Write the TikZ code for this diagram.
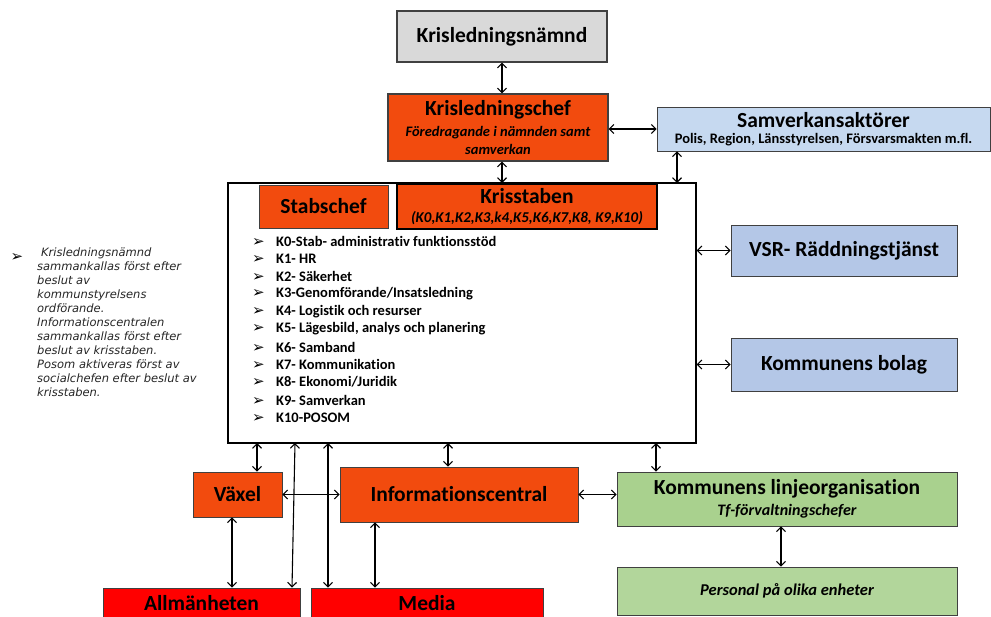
\documentclass[tikz,border=0pt]{standalone}
\usepackage{fontspec}
\setmainfont{Carlito}[Ligatures=NoCommon]
\newfontfamily\notefont{DejaVu Sans}[ItalicFont={DejaVu Sans Oblique}]
\usetikzlibrary{arrows.meta}

\definecolor{nmndgray}{RGB}{217,217,217}
\definecolor{krisorange}{RGB}{242,75,14}
\definecolor{krisred}{RGB}{255,0,0}
\definecolor{samvblue}{RGB}{198,217,240}
\definecolor{vsrblue}{RGB}{180,199,231}
\definecolor{linjegreen}{RGB}{169,209,142}
\definecolor{persgreen}{RGB}{178,214,155}

\newcommand{\boxtitle}{\fontsize{21.5}{24}\selectfont\bfseries}
\newcommand{\boxsub}[1]{\fontsize{#1}{18}\selectfont\bfseries\itshape}
\newcommand{\bul}{\makebox[24pt][l]{\notefont\fontsize{15}{15}\selectfont ➢}}

\begin{document}
\begin{tikzpicture}[x=1pt,y=-1pt,
  box/.style={draw=black!75,line width=0.8pt,inner sep=0pt,align=center},
  item/.style={anchor=west,inner sep=0pt,font=\fontsize{14.5}{17}\selectfont\bfseries},
  conn/.style={{Straight Barb[length=4.5pt,width=9pt]}-{Straight Barb[length=4.5pt,width=9pt]},line width=1.1pt}]
\path[use as bounding box] (0,0) rectangle (991,617);
\clip (0,0) rectangle (991,617);
\fill[white] (0,0) rectangle (991,617);
\node[box,fill=nmndgray,line width=1.2pt,minimum width=210pt,minimum height=51pt] (nmnd) at (502,36.5) {\boxtitle Krisledningsnämnd};
\node[box,fill=krisorange,line width=1.2pt,minimum width=220pt,minimum height=67pt] (chef) at (498,127.5)
  {{\boxtitle Krisledningschef}\\[6pt] {\boxsub{14.5}Föredragande i nämnden samt}\\[4pt] {\boxsub{14.5}samverkan}};
\node[box,fill=samvblue,minimum width=333pt,minimum height=44pt] (samv) at (823.5,129)
  {{\boxtitle Samverkansaktörer}\\[4pt] {\fontsize{14.5}{16}\selectfont\bfseries Polis, Region, Länsstyrelsen, Försvarsmakten m.fl.}};
\node[draw,line width=1.3pt,inner sep=0pt,minimum width=468pt,minimum height=260pt] (frame) at (462,313) {};
\node[box,fill=krisorange,minimum width=129pt,minimum height=43pt] (stabschef) at (323.5,206.5) {\boxtitle Stabschef};
\node[box,fill=krisorange,draw=black,line width=2pt,minimum width=260pt,minimum height=45pt] (krisstaben) at (527,206.5)
  {{\boxtitle Krisstaben}\\[7pt] {\boxsub{15}(K0,K1,K2,K3,k4,K5,K6,K7,K8, K9,K10)}};
\node[item] (k0) at (252,241) {\bul K0-Stab- administrativ funktionsstöd};
\node[item] (k1) at (252,259) {\bul K1- HR};
\node[item] (k2) at (252,276) {\bul K2- Säkerhet};
\node[item] (k3) at (252,294) {\bul K3-Genomförande/Insatsledning};
\node[item] (k4) at (252,312) {\bul K4- Logistik och resurser};
\node[item] (k5) at (252,329) {\bul K5- Lägesbild, analys och planering};
\node[item] (k6) at (252,347) {\bul K6- Samband};
\node[item] (k7) at (252,364) {\bul K7- Kommunikation};
\node[item] (k8) at (252,382) {\bul K8- Ekonomi/Juridik};
\node[item] (k9) at (252,400) {\bul K9- Samverkan};
\node[item] (k10) at (252,418) {\bul K10-POSOM};
\node[box,fill=vsrblue,minimum width=226pt,minimum height=51pt] (vsr) at (844,250.5) {\boxtitle VSR- Räddningstjänst};
\node[box,fill=vsrblue,minimum width=226pt,minimum height=53pt] (bolag) at (844,364.5) {\boxtitle Kommunens bolag};
\node[box,fill=krisorange,minimum width=89pt,minimum height=45pt] (vaxel) at (237.5,494.5) {\boxtitle Växel};
\node[box,fill=krisorange,minimum width=238pt,minimum height=55pt] (info) at (459,494.5) {\boxtitle Informationscentral};
\node[box,fill=linjegreen,minimum width=340pt,minimum height=54pt] (linje) at (787,499)
  {{\boxtitle Kommunens linjeorganisation}\\[5pt] {\boxsub{16}Tf-förvaltningschefer}};
\node[box,fill=persgreen,minimum width=340pt,minimum height=48pt] (personal) at (787,591) {\boxsub{16.5}Personal på olika enheter};
\node[box,fill=krisred,minimum width=197pt,minimum height=30pt] (allm) at (201.5,603) {\boxtitle Allmänheten};
\node[box,fill=krisred,minimum width=232pt,minimum height=30pt] (media) at (427,603) {\boxtitle Media};
\node[inner sep=0pt] (notebul) at (17,258) {\notefont\fontsize{15}{15}\selectfont ➢};
\node[anchor=north west,inner sep=0pt,align=left,text=black!85,font=\notefont\fontsize{11.5}{14}\selectfont\itshape] (note) at (37,248)
  {\hspace{4pt}Krisledningsnämnd\\ sammankallas först efter\\ beslut av\\ kommunstyrelsens\\ ordförande.\\ Informationscentralen\\ sammankallas först efter\\ beslut av krisstaben.\\ Posom aktiveras först av\\ socialchefen efter beslut av\\ krisstaben.};
\coordinate (samvdrop) at (677,183);
\coordinate (fvax) at (257,443);
\coordinate (fallm) at (295,443);
\coordinate (fmed) at (328,443);
\coordinate (finfo) at (448,443);
\coordinate (flinje) at (656,443);
\coordinate (vaxbot) at ([xshift=-5.5pt]vaxel.south);
\coordinate (infobot) at ([xshift=-84pt]info.south);
\coordinate (linjebot) at ([xshift=-6pt]linje.south);
\draw[conn] (nmnd.south) -- (nmnd.south |- chef.north);
\draw[conn] (chef.south -| nmnd.south) -- (krisstaben.north -| nmnd.south);
\draw[conn] (chef.east |- samv.west) -- (samv.west);
\draw[conn] (samvdrop |- samv.south) -- (samvdrop);
\draw[conn] (frame.east |- vsr.west) -- (vsr.west);
\draw[conn] (frame.east |- bolag.west) -- (bolag.west);
\draw[conn] (fvax) -- (fvax |- vaxel.north);
\draw[conn] (fallm) -- ([xshift=90.5pt]allm.north);
\draw[conn] (fmed) -- (fmed |- media.north);
\draw[conn] (finfo) -- (finfo |- info.north);
\draw[conn] (flinje) -- (flinje |- linje.north);
\draw[conn] (vaxel.east) -- (vaxel.east -| info.west);
\draw[conn] (info.east) -- (info.east -| linje.west);
\draw[conn] (vaxbot) -- (vaxbot |- allm.north);
\draw[conn] (infobot) -- (infobot |- media.north);
\draw[conn] (linjebot) -- (linjebot |- personal.north);
\end{tikzpicture}
\end{document}
